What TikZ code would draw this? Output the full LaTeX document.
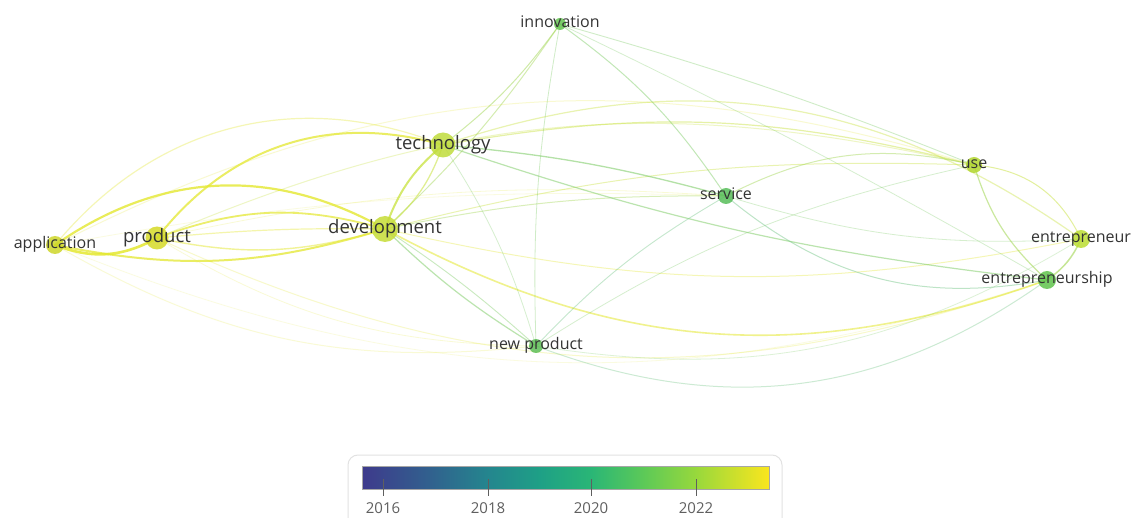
\documentclass[tikz,border=0pt]{standalone}
\usepackage{fontspec}
\setmainfont{Open Sans}
\pgfdeclarelayer{edges}
\pgfsetlayers{edges,main}
\definecolor{cLab}{RGB}{52,52,52}
\definecolor{cTick}{RGB}{95,95,95}
\definecolor{cBox}{RGB}{226,226,226}
\definecolor{cY}{RGB}{228,232,48}
\definecolor{cYG}{RGB}{200,226,60}
\definecolor{cLG}{RGB}{160,214,80}
\definecolor{cG}{RGB}{120,202,95}
\definecolor{cGT}{RGB}{110,196,130}
\definecolor{nApp}{RGB}{206,214,42}
\definecolor{nProd}{RGB}{214,218,40}
\definecolor{nDev}{RGB}{198,220,55}
\definecolor{nTech}{RGB}{192,220,60}
\definecolor{nInn}{RGB}{100,196,80}
\definecolor{nServ}{RGB}{88,190,90}
\definecolor{nUse}{RGB}{178,214,45}
\definecolor{nEnt}{RGB}{188,222,50}
\definecolor{nShip}{RGB}{96,196,76}
\definecolor{nNP}{RGB}{94,190,86}
\definecolor{v0}{RGB}{62,58,140}
\definecolor{v1}{RGB}{48,100,142}
\definecolor{v2}{RGB}{36,134,142}
\definecolor{v3}{RGB}{30,160,134}
\definecolor{v4}{RGB}{42,182,118}
\definecolor{v5}{RGB}{92,201,88}
\definecolor{v6}{RGB}{152,216,60}
\definecolor{v7}{RGB}{250,230,30}
\begin{document}
\begin{tikzpicture}[x=1pt,y=-1pt,
  kw/.style={circle,inner sep=0pt,draw=none,fill opacity=.85},
  lab/.style={font=\fontsize{16}{18}\selectfont,text=cLab,text opacity=1,inner sep=0pt,text height=11.5pt,text depth=3.5pt},
  labL/.style={font=\fontsize{18.5}{21}\selectfont,text=cLab,text opacity=1,inner sep=0pt,text height=13.5pt,text depth=4pt},
  ed/.style={line cap=round},
  ticklab/.style={font=\fontsize{15}{17}\selectfont,text=cTick},
  tickmark/.style={draw=cTick,line width=.8pt}]
\useasboundingbox (0,0) rectangle (1140,518);
\begin{pgfonlayer}{edges}
\fill[white] (0,0) rectangle (1140,518);
\end{pgfonlayer}

% nodes
\node[kw,fill=nApp,minimum size=18pt,label={[lab]center:application}] (app) at (55,245) {};
\node[kw,fill=nProd,minimum size=23pt,label={[labL]center:product}] (prod) at (157,238) {};
\node[kw,fill=nDev,minimum size=26pt,label={[labL]center:development}] (dev) at (385,229) {};
\node[kw,fill=nTech,minimum size=25pt,label={[labL]center:technology}] (tech) at (443,145) {};
\node[kw,fill=nInn,minimum size=12pt,label={[lab]center:innovation}] (inn) at (560,24) {};
\node[kw,fill=nServ,minimum size=16pt,label={[lab]center:service}] (serv) at (726,196) {};
\node[kw,fill=nUse,minimum size=16pt,label={[lab]center:use}] (use) at (974,165) {};
\node[kw,fill=nEnt,minimum size=18pt,label={[lab]center:entrepreneur}] (ent) at (1081,239) {};
\node[kw,fill=nShip,minimum size=18pt,label={[lab]center:entrepreneurship}] (ship) at (1047,280) {};
\node[kw,fill=nNP,minimum size=14pt,label={[lab]center:new product}] (np) at (536,346) {};

% edges
\begin{pgfonlayer}{edges}
\draw[ed,draw=cY,line width=.8,opacity=.15] (app.center) to[bend right=20] (ship.center);
\draw[ed,draw=cY,line width=1,opacity=.22] (app.center) to[bend left=22] (use.center);
\draw[ed,draw=cY,line width=1,opacity=.2] (app.center) to[bend right=18] (np.center);
\draw[ed,draw=cY,line width=.8,opacity=.2] (prod.center) to[bend right=15] (np.center);
\draw[ed,draw=cY,line width=1,opacity=.25] (prod.center) to[bend right=22] (ship.center);
\draw[ed,draw=cYG,line width=1,opacity=.3] (prod.center) to[bend left=18] (use.center);
\draw[ed,draw=cY,line width=.8,opacity=.2] (prod.center) to[bend left=8] (serv.center);
\draw[ed,draw=cY,line width=.8,opacity=.15] (app.center) to[bend left=6] (serv.center);
\draw[ed,draw=cYG,line width=1.2,opacity=.4] (tech.center) to[bend left=27] (ent.center);
\draw[ed,draw=cY,line width=1.6,opacity=.55] (dev.center) to[bend right=24] (ship.center);
\draw[ed,draw=cY,line width=1,opacity=.35] (dev.center) to[bend right=12] (ent.center);
\draw[ed,draw=cYG,line width=1,opacity=.4] (dev.center) to[bend left=8] (use.center);
\draw[ed,draw=cYG,line width=1.2,opacity=.45] (tech.center) to[bend left=12] (use.center);
\draw[ed,draw=cLG,line width=1,opacity=.4] (dev.center) to[bend left=6] (serv.center);
\draw[ed,draw=cG,line width=1.3,opacity=.55] (tech.center) to[bend left=5] (serv.center);
\draw[ed,draw=cG,line width=1.2,opacity=.5] (tech.center) to[bend right=6] (ship.center);
\draw[ed,draw=cLG,line width=1,opacity=.5] (tech.center) to[bend right=8] (inn.center);
\draw[ed,draw=cLG,line width=1,opacity=.45] (dev.center) to[bend right=6] (inn.center);
\draw[ed,draw=cG,line width=1,opacity=.45] (inn.center) to[bend left=10] (serv.center);
\draw[ed,draw=cG,line width=.9,opacity=.35] (inn.center) to[bend left=3] (use.center);
\draw[ed,draw=cG,line width=.8,opacity=.3] (inn.center) to[bend left=2] (ship.center);
\draw[ed,draw=cG,line width=.8,opacity=.35] (inn.center) to[bend right=6] (np.center);
\draw[ed,draw=cG,line width=1.2,opacity=.5] (dev.center) to[bend right=6] (np.center);
\draw[ed,draw=cG,line width=.9,opacity=.4] (dev.center) to[bend left=4] (np.center);
\draw[ed,draw=cG,line width=.8,opacity=.3] (tech.center) to[bend left=8] (np.center);
\draw[ed,draw=cGT,line width=.9,opacity=.4] (serv.center) to[bend right=8] (np.center);
\draw[ed,draw=cG,line width=.8,opacity=.3] (np.center) to[bend left=10] (use.center);
\draw[ed,draw=cGT,line width=1,opacity=.35] (np.center) to[bend right=28] (ship.center);
\draw[ed,draw=cG,line width=.8,opacity=.25] (np.center) to[bend right=20] (ent.center);
\draw[ed,draw=cLG,line width=1,opacity=.45] (serv.center) to[bend left=20] (use.center);
\draw[ed,draw=cGT,line width=1,opacity=.45] (serv.center) to[bend right=25] (ship.center);
\draw[ed,draw=cG,line width=.8,opacity=.3] (serv.center) to[bend right=10] (ent.center);
\draw[ed,draw=cYG,line width=1,opacity=.5] (use.center) to[bend left=30] (ent.center);
\draw[ed,draw=cLG,line width=1.2,opacity=.55] (use.center) to[bend right=15] (ship.center);
\draw[ed,draw=cLG,line width=1.5,opacity=.6] (ent.center) to[bend left=15] (ship.center);
\draw[ed,draw=cY,line width=1.2,opacity=.35] (app.center) to[bend left=36] (tech.center);
\draw[ed,draw=cY,line width=1.2,opacity=.4] (prod.center) to[bend left=3] (dev.center);
\draw[ed,draw=cY,line width=1.4,opacity=.5] (prod.center) to[bend right=14] (dev.center);
\draw[ed,draw=cY,line width=1.8,opacity=.7] (prod.center) to[bend left=18] (dev.center);
\draw[ed,draw=cY,line width=2,opacity=.75] (prod.center) to[bend left=34] (tech.center);
\draw[ed,draw=cYG,line width=2,opacity=.75] (dev.center) to[bend left=15] (tech.center);
\draw[ed,draw=cYG,line width=1.3,opacity=.55] (dev.center) to[bend right=15] (tech.center);
\draw[ed,draw=cY,line width=2,opacity=.75] (app.center) to[bend right=14] (dev.center);
\draw[ed,draw=cY,line width=2.2,opacity=.8] (app.center) to[bend left=32] (dev.center);
\draw[ed,draw=cY,line width=2.6,opacity=.85] (app.center) to[bend right=25] (prod.center);
\end{pgfonlayer}

% colour bar
\draw[cBox,line width=1pt,rounded corners=10pt] (348,455) rectangle (782,535);
\node[inner sep=0pt,minimum width=407pt,minimum height=23pt] (bar) at (565.5,477.5) {};
\fill[left color=v0,right color=v1] (362,466) rectangle (435.5,489);
\fill[left color=v1,right color=v2] (435,466) rectangle (488.5,489);
\fill[left color=v2,right color=v3] (488,466) rectangle (540,489);
\fill[left color=v3,right color=v4] (539.5,466) rectangle (591.5,489);
\fill[left color=v4,right color=v5] (591,466) rectangle (643.5,489);
\fill[left color=v5,right color=v6] (643,466) rectangle (696.5,489);
\fill[left color=v6,right color=v7] (696,466) rectangle (769,489);
\draw[gray!70,line width=.6pt] (bar.south west) rectangle (bar.north east);
\foreach \x/\yr in {383/2016,488/2018,591/2020,696/2022}{
  \draw[tickmark] (\x,479) -- (\x,496);
  \node[ticklab] (t\yr) at (\x,508) {\yr};
}
\end{tikzpicture}
\end{document}
